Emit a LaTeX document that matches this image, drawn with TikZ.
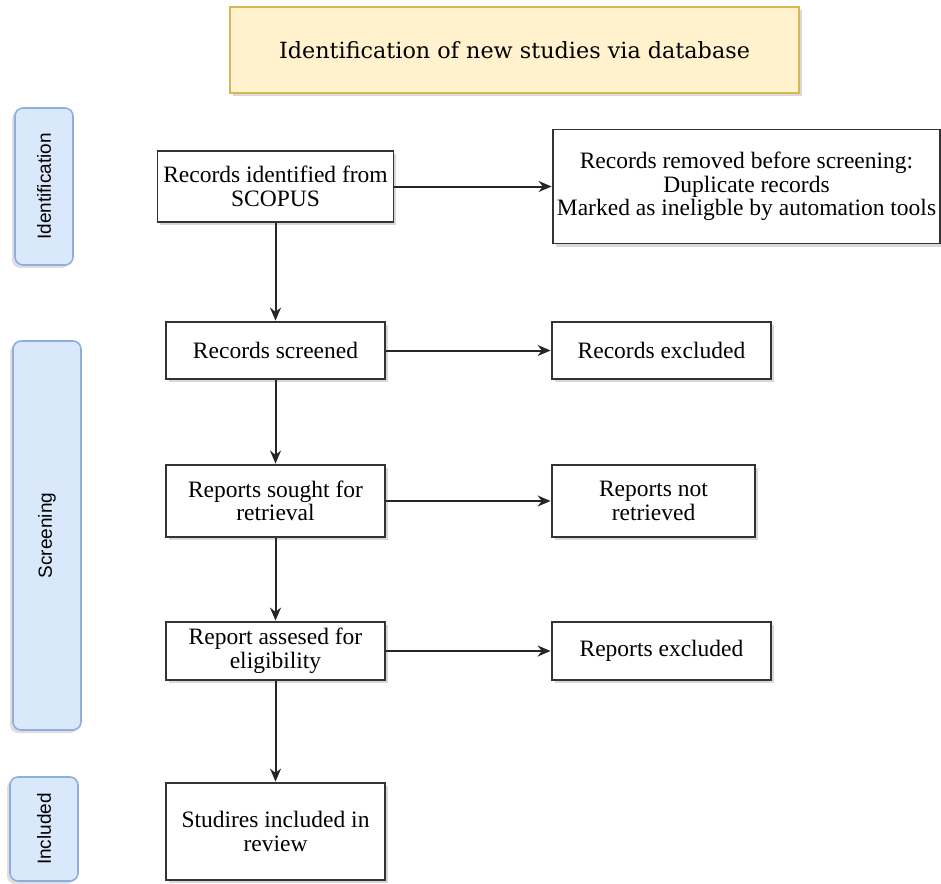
\documentclass[tikz,border=0pt]{standalone}
\usepackage{fontspec}
\setmainfont{Liberation Serif}
\setsansfont{Liberation Sans}
\newfontfamily\headfont{DejaVu Serif}
\usetikzlibrary{shapes,arrows.meta,shadows}
\definecolor{headfill}{HTML}{FFF2CC}
\definecolor{headline}{HTML}{D6B656}
\definecolor{phasefill}{HTML}{DAE8FC}
\definecolor{phaseline}{HTML}{8FAEDC}

\begin{document}
\begin{tikzpicture}[x=1pt,y=1pt,auto]
\tikzstyle{box}=[rectangle,draw=black!80,line width=1.8pt,fill=white,align=center,inner sep=2pt,
  font=\fontsize{23.5}{23.5}\selectfont,minimum width=219pt,
  drop shadow={shadow xshift=2.5pt,shadow yshift=-3pt,opacity=0.3}]
\tikzstyle{phase}=[rectangle,rounded corners=8pt,draw=phaseline,fill=phasefill,line width=1.6pt,
  rotate=90,font=\sffamily\fontsize{19}{20}\selectfont,
  drop shadow={shadow xshift=-3pt,shadow yshift=-3pt,opacity=0.25}]
\tikzstyle{flow}=[draw=black!85,line width=2pt,-{Stealth[length=13pt,width=11pt]},shorten >=0.5pt]
\useasboundingbox (0,0) rectangle (941,-883);
% header
\node[box,fill=headfill,draw=headline,minimum width=569pt,minimum height=86pt,font=\headfont\fontsize{22.3}{24}\selectfont]
  (head) at (514.5,-50) {Identification of new studies via database};
% phases
\node[phase,minimum width=157pt,minimum height=58pt] (p1) at (44,-186.5) {Identification};
\node[phase,minimum width=389pt,minimum height=68pt] (p2) at (47,-535.5) {Screening};
\node[phase,minimum width=104pt,minimum height=68pt] (p3) at (44,-829) {Included};
% main column
\node[box,minimum width=236pt,minimum height=71pt] (1) at (275.5,-186.5) {Records identified from\\SCOPUS};
\node[box,minimum height=57pt,node distance=164pt][below of=1] (2) {Records screened};
\node[box,minimum height=72pt,node distance=150.5pt][below of=2] (3) {Reports sought for\\retrieval};
\node[box,minimum height=58pt,node distance=150pt][below of=3] (4) {Report assesed for\\eligibility};
\node[box,minimum height=97pt,node distance=180.5pt][below of=4] (5) {Studires included in\\review};
% side column
\node[box,minimum width=387pt,minimum height=114pt,node distance=471pt][right of=1] (1r)
  {Records removed before screening:\\Duplicate records\\Marked as ineligble by automation tools};
\node[box,minimum height=57pt,node distance=386pt][right of=2] (2r) {Records excluded};
\node[box,minimum width=203pt,minimum height=72pt,node distance=378pt][right of=3] (3r) {Reports not\\retrieved};
\node[box,minimum height=58pt,node distance=386pt][right of=4] (4r) {Reports excluded};
\draw[flow] (1) -- (2);
\draw[flow] (2) -- (3);
\draw[flow] (3) -- (4);
\draw[flow] (4) -- (5);
\draw[flow] (1) -- (1r);
\draw[flow] (2) -- (2r);
\draw[flow] (3) -- (3r);
\draw[flow] (4) -- (4r);
\end{tikzpicture}
\end{document}
